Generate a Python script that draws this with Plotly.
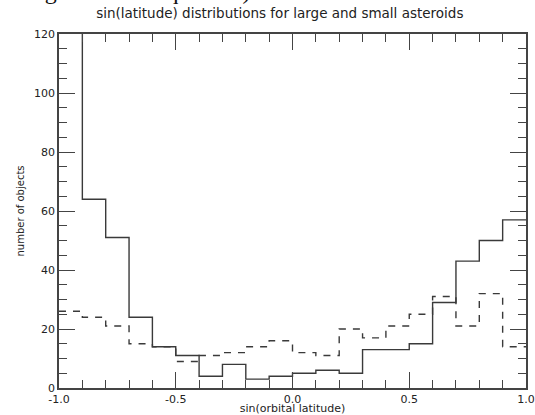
import plotly.graph_objects as go

bin_edges = [-1.0, -0.9, -0.8, -0.7, -0.6, -0.5, -0.4, -0.3, -0.2, -0.1, 0.0,
             0.1, 0.2, 0.3, 0.4, 0.5, 0.6, 0.7, 0.8, 0.9, 1.0]
large_counts = [135, 64, 51, 24, 14, 11, 4, 8, 3, 4, 5, 6, 5, 13, 13, 15, 29, 43, 50, 57]
small_counts = [26, 24, 21, 15, 14, 9, 11, 12, 14, 16, 12, 11, 20, 17, 21, 25, 31, 21, 32, 14]

x_ticks = [-1.0, -0.5, 0.0, 0.5, 1.0]
x_tick_labels = ["-1.0", "-0.5", "0.0", "0.5", "1.0"]
y_ticks = [0, 20, 40, 60, 80, 100, 120]

fig = go.Figure()
fig.add_trace(go.Scatter(x=bin_edges, y=large_counts + [large_counts[-1]], mode="lines",
                         line=dict(shape="hv", color="#3a3a3a", width=1.4),
                         showlegend=False, cliponaxis=True))
fig.add_trace(go.Scatter(x=bin_edges, y=small_counts + [small_counts[-1]], mode="lines",
                         line=dict(shape="hv", color="#3a3a3a", width=1.4, dash="7px,7px"),
                         showlegend=False, cliponaxis=True))

font = dict(family="DejaVu Sans", size=11, color="#222")
axis_common = dict(showline=True, linecolor="#444", linewidth=1.5, mirror="ticks",
                   ticks="inside", ticklen=16, tickwidth=1.3, tickcolor="#444",
                   showgrid=False, zeroline=False, tickfont=font, automargin=False)

fig.update_xaxes(range=[-1, 1], tickvals=x_ticks, ticktext=x_tick_labels,
                 minor=dict(ticks="inside", ticklen=8, dtick=0.1, tick0=0,
                            tickcolor="#444", tickwidth=1.3, showgrid=False),
                 title=dict(text="sin(orbital latitude)", font=font, standoff=4),
                 **axis_common)
fig.update_yaxes(range=[0, 120], tickvals=y_ticks,
                 minor=dict(ticks="inside", ticklen=8, dtick=5, tick0=0,
                            tickcolor="#444", tickwidth=1.3, showgrid=False),
                 title=dict(text="number of objects", font=dict(family="DejaVu Sans", size=10, color="#222"), standoff=8),
                 **axis_common)

fig.update_layout(
    width=535, height=415,
    margin=dict(l=59, r=9, t=34, b=27, autoexpand=False),
    paper_bgcolor="white", plot_bgcolor="white",
    title=dict(text="sin(latitude) distributions for large and small asteroids",
               x=0.523, xanchor="center", y=0.968, yanchor="middle",
               font=dict(family="DejaVu Sans", size=13.5, color="#222")),
    annotations=[dict(text="0-degree non-uniqueness).", xref="paper", yref="paper",
                      x=-0.126, y=1.0, xanchor="left", yanchor="bottom", yshift=28,
                      showarrow=False,
                      font=dict(family="Liberation Serif", size=24, color="#111"))],
)

fig.write_html("out.html", config={"displayModeBar": False},
               post_script="document.body.style.margin='0';document.body.style.overflow='hidden';")
